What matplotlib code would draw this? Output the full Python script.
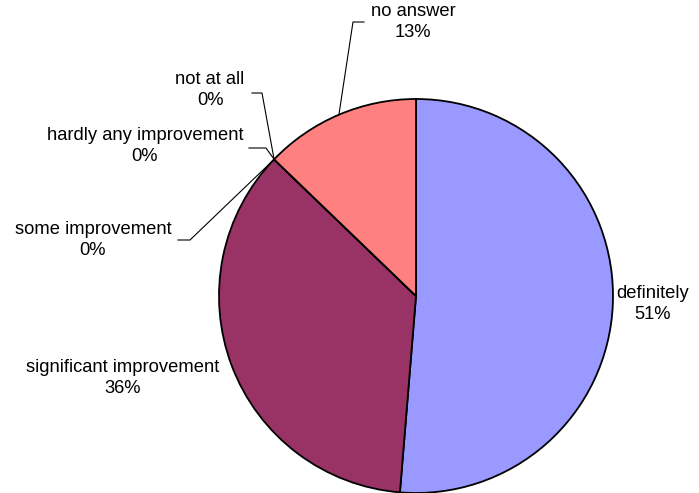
import numpy as np
import matplotlib
matplotlib.use("Agg")
import matplotlib.pyplot as plt

labels = ["definitely", "significant improvement", "some improvement",
          "hardly any improvement", "not at all", "no answer"]
values = [51.3, 35.9, 0.0, 0.0, 0.0, 12.8]
colors = ["#9999FF", "#993366", "#FFFFCC", "#CCFFFF", "#660066", "#FF8080"]

W, H = 699, 493
plt.rcParams["font.family"] = ["Liberation Sans", "DejaVu Sans"]

fig = plt.figure(figsize=(W / 100, H / 100), dpi=100)
ax = fig.add_axes([0, 0, 1, 1])

cx, cy, r = 416, H - 296, 197
wedges, _ = ax.pie(values, colors=colors, startangle=90, counterclock=False,
                   center=(cx, cy), radius=r, frame=True,
                   wedgeprops=dict(edgecolor="black", linewidth=1.3))
ax.set_xlim(0, W)
ax.set_ylim(0, H)
ax.set_aspect("equal")
ax.set_axis_off()

# label text centre (pixels from top-left) and leader line points
layout = {
    "definitely": ((653, 304), None),
    "significant improvement": ((123, 378), None),
    "some improvement": ((93, 240), [(178, 240), (190, 240)]),
    "hardly any improvement": ((145, 146), [(249, 148), (266, 148)]),
    "not at all": ((210, 90), [(252, 93), (262, 93)]),
    "no answer": ((413, 22), [(364, 22), (353, 22)]),
}

for w, lab, v in zip(wedges, labels, values):
    (tx, ty), lead = layout[lab]
    ax.text(tx, H - ty, f"{lab}\n{v:.0f}%", ha="center", va="center",
            fontsize=13.2, linespacing=1.35, color="black")
    if lead:
        mid = np.deg2rad((w.theta1 + w.theta2) / 2)
        px, py = cx + r * np.cos(mid), cy + r * np.sin(mid)
        xs = [p[0] for p in lead] + [px]
        ys = [H - p[1] for p in lead] + [py]
        ax.plot(xs, ys, color="black", linewidth=0.8)

fig.savefig("out.png", dpi=100, facecolor="white")
